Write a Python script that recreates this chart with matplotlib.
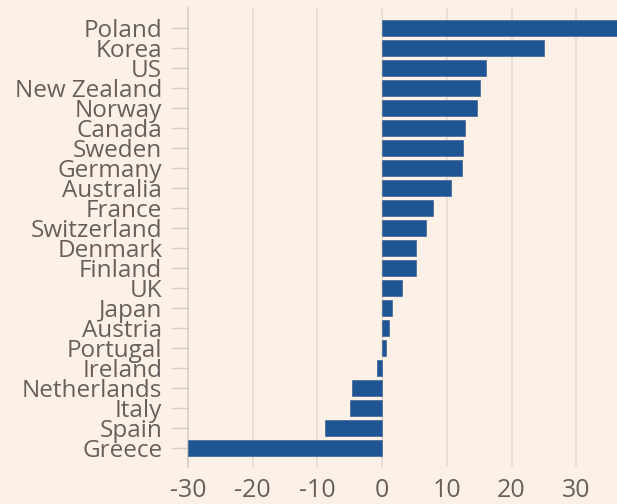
import matplotlib
matplotlib.use("Agg")
from matplotlib import pyplot as plt

countries = ["Poland", "Korea", "US", "New Zealand", "Norway", "Canada", "Sweden",
             "Germany", "Australia", "France", "Switzerland", "Denmark", "Finland",
             "UK", "Japan", "Austria", "Portugal", "Ireland", "Netherlands", "Italy",
             "Spain", "Greece"]
values = [40.0, 25.0, 16.1, 15.2, 14.6, 12.8, 12.5, 12.3, 10.7, 7.8, 6.8, 5.3, 5.3,
          3.1, 1.5, 1.05, 0.6, -0.8, -4.7, -5.0, -8.8, -30.0]
xticks = [-30, -20, -10, 0, 10, 20, 30]

bg = "#fdf0e6"
bar_col = "#1f5594"
text_col = "#66605c"
grid_col = "#e8dcd2"

plt.rcParams["font.family"] = ["Open Sans", "DejaVu Sans"]

fig = plt.figure(figsize=(6.17, 5.04), dpi=100, facecolor=bg)
ax = fig.add_axes([188 / 617, 37 / 504, 1 - 188 / 617, 459 / 504])
ax.set_facecolor(bg)

pos = list(range(len(countries)))
ax.barh(pos, values, height=0.8, color=bar_col, edgecolor="#4a6f99", linewidth=0.6, zorder=3)

ax.set_xlim(-30, 36.3)
ax.set_ylim(len(countries) - 1 + 0.95, -1)
ax.set_xticks(xticks)
ax.set_xticklabels([str(t) for t in xticks])
ax.set_yticks(pos)
ax.set_yticklabels(countries)

ax.grid(axis="x", color=grid_col, linewidth=1.2, zorder=0)
for s in ["top", "right", "bottom"]:
    ax.spines[s].set_visible(False)
ax.spines["left"].set_color("#d9ccc3")
ax.spines["left"].set_linewidth(1.2)

ax.tick_params(axis="y", length=12, width=1, color="#d9ccc3", pad=6.5,
               labelsize=17.5, labelcolor=text_col)
ax.tick_params(axis="x", length=0, pad=8, labelsize=18, labelcolor=text_col)

fig.savefig("out.png", dpi=100, facecolor=bg)
